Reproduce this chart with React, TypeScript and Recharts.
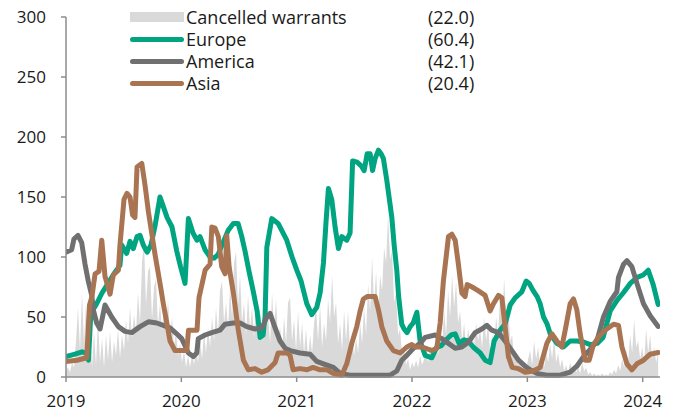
import React from "react";
import { ComposedChart, Area, Line, XAxis, YAxis } from "recharts";

// Decimal-year dates and values
const europe: [number, number][] = [
  [2019.0, 17], [2019.078, 19], [2019.139, 21], [2019.173, 20], [2019.195, 14], [2019.212, 47], [2019.234, 56], [2019.26, 60],
  [2019.312, 70], [2019.364, 78], [2019.416, 86], [2019.468, 93], [2019.483, 110], [2019.526, 103], [2019.555, 113], [2019.584, 107],
  [2019.616, 117], [2019.642, 118], [2019.67, 110], [2019.703, 104], [2019.737, 110], [2019.772, 126], [2019.815, 150], [2019.844, 142],
  [2019.876, 133], [2019.919, 125], [2019.96, 105], [2019.993, 92], [2020.032, 78], [2020.061, 132], [2020.101, 120], [2020.136, 114],
  [2020.162, 117], [2020.206, 106], [2020.249, 100], [2020.284, 99], [2020.318, 102], [2020.353, 110], [2020.405, 122], [2020.451, 128],
  [2020.492, 128], [2020.524, 117], [2020.552, 105], [2020.587, 88], [2020.622, 72], [2020.657, 55], [2020.683, 33], [2020.709, 35],
  [2020.726, 50], [2020.741, 108], [2020.784, 132], [2020.839, 128], [2020.914, 114], [2020.96, 100], [2021.001, 89], [2021.038, 80],
  [2021.088, 61], [2021.131, 52], [2021.174, 58], [2021.203, 70], [2021.232, 95], [2021.255, 130], [2021.275, 157], [2021.304, 148],
  [2021.333, 125], [2021.362, 107], [2021.391, 117], [2021.434, 114], [2021.463, 120], [2021.485, 180], [2021.524, 179], [2021.559, 176],
  [2021.585, 172], [2021.611, 186], [2021.637, 186], [2021.658, 172], [2021.68, 182], [2021.709, 189], [2021.732, 186], [2021.752, 182],
  [2021.781, 164], [2021.825, 133], [2021.845, 110], [2021.868, 89], [2021.884, 67], [2021.911, 44], [2021.931, 40], [2021.957, 37],
  [2021.984, 42], [2022.01, 45], [2022.042, 54], [2022.07, 30], [2022.114, 18], [2022.172, 16], [2022.215, 25], [2022.252, 26],
  [2022.296, 31], [2022.339, 35], [2022.374, 36], [2022.408, 28], [2022.452, 31], [2022.487, 30], [2022.53, 25], [2022.591, 20],
  [2022.634, 14], [2022.677, 12], [2022.712, 30], [2022.764, 39], [2022.807, 44], [2022.851, 60], [2022.894, 66], [2022.952, 71],
  [2022.99, 80], [2023.016, 78], [2023.05, 72], [2023.085, 67], [2023.111, 61], [2023.14, 50], [2023.172, 44], [2023.198, 36],
  [2023.256, 28], [2023.313, 25], [2023.371, 30], [2023.432, 30], [2023.493, 29], [2023.545, 27], [2023.605, 28], [2023.657, 33],
  [2023.718, 55], [2023.779, 64], [2023.831, 70], [2023.892, 78], [2023.952, 83], [2024.004, 85], [2024.048, 89], [2024.091, 77],
  [2024.134, 60.4],
];

const america: [number, number][] = [
  [2019.0, 104], [2019.049, 106], [2019.069, 115], [2019.104, 118], [2019.136, 112], [2019.165, 94], [2019.193, 80], [2019.223, 68],
  [2019.239, 55], [2019.266, 45], [2019.295, 40], [2019.321, 52], [2019.338, 60], [2019.396, 50], [2019.454, 42], [2019.512, 38],
  [2019.57, 37], [2019.642, 42], [2019.714, 46], [2019.787, 45], [2019.844, 43], [2019.902, 41], [2019.96, 36], [2020.003, 32],
  [2020.032, 26], [2020.061, 20], [2020.104, 17], [2020.134, 20], [2020.147, 32], [2020.206, 35], [2020.264, 37], [2020.336, 39],
  [2020.379, 44], [2020.451, 45], [2020.509, 45], [2020.567, 42], [2020.639, 40], [2020.7, 41], [2020.741, 50], [2020.769, 53],
  [2020.813, 41], [2020.856, 30], [2020.899, 24], [2020.943, 22], [2021.029, 20], [2021.116, 19], [2021.174, 13], [2021.232, 11],
  [2021.318, 8], [2021.376, 3], [2021.463, 1.5], [2021.81, 1.5], [2021.868, 5], [2021.911, 14], [2021.955, 18], [2022.012, 24],
  [2022.07, 28], [2022.114, 33], [2022.2, 35], [2022.258, 32], [2022.316, 28], [2022.374, 24], [2022.432, 25], [2022.489, 29],
  [2022.547, 37], [2022.605, 40], [2022.649, 43], [2022.692, 39], [2022.749, 37], [2022.807, 30], [2022.866, 22], [2022.923, 14],
  [2022.981, 9], [2023.024, 6], [2023.082, 3], [2023.169, 1.5], [2023.284, 1.5], [2023.371, 4], [2023.429, 9], [2023.487, 17],
  [2023.545, 23], [2023.603, 30], [2023.66, 50], [2023.718, 63], [2023.776, 71], [2023.79, 83], [2023.834, 94], [2023.863, 97],
  [2023.906, 92], [2023.95, 78], [2024.007, 61], [2024.065, 51], [2024.134, 42.1],
];

const asia: [number, number][] = [
  [2019.0, 13], [2019.095, 14], [2019.18, 16], [2019.204, 60], [2019.225, 67], [2019.252, 86], [2019.286, 88], [2019.31, 114],
  [2019.338, 84], [2019.382, 69], [2019.41, 85], [2019.454, 89], [2019.468, 110], [2019.503, 148], [2019.529, 153], [2019.555, 150],
  [2019.577, 135], [2019.598, 133], [2019.616, 175], [2019.657, 178], [2019.685, 160], [2019.714, 138], [2019.772, 102], [2019.815, 78],
  [2019.844, 61], [2019.902, 30], [2019.945, 22], [2020.047, 22], [2020.062, 39], [2020.136, 39], [2020.153, 66], [2020.206, 89],
  [2020.249, 94], [2020.264, 125], [2020.292, 124], [2020.321, 117], [2020.35, 92], [2020.379, 86], [2020.394, 118], [2020.414, 92],
  [2020.451, 70], [2020.494, 39], [2020.538, 14], [2020.581, 6], [2020.639, 7], [2020.697, 4], [2020.752, 6], [2020.813, 12],
  [2020.839, 20], [2020.917, 20], [2020.943, 18], [2020.969, 6], [2021.029, 7], [2021.09, 6], [2021.142, 8], [2021.203, 6],
  [2021.264, 6], [2021.316, 3], [2021.391, 1.5], [2021.434, 11], [2021.478, 28], [2021.521, 42], [2021.55, 55], [2021.578, 65],
  [2021.611, 67], [2021.68, 67], [2021.709, 56], [2021.738, 42], [2021.781, 30], [2021.839, 22], [2021.897, 20], [2021.955, 25],
  [2021.998, 27], [2022.027, 25], [2022.088, 25], [2022.174, 22], [2022.215, 24], [2022.244, 45], [2022.272, 80], [2022.316, 117],
  [2022.345, 119], [2022.374, 114], [2022.402, 94], [2022.432, 70], [2022.46, 67], [2022.478, 77], [2022.521, 75], [2022.573, 72],
  [2022.634, 68], [2022.677, 55], [2022.706, 61], [2022.749, 68], [2022.779, 66], [2022.807, 42], [2022.836, 17], [2022.868, 8],
  [2022.92, 7], [2022.981, 4], [2023.05, 5], [2023.111, 8], [2023.169, 28], [2023.212, 36], [2023.256, 30], [2023.299, 25],
  [2023.328, 39], [2023.371, 61], [2023.4, 65], [2023.429, 56], [2023.458, 36], [2023.501, 14], [2023.536, 14], [2023.573, 27],
  [2023.631, 35], [2023.689, 40], [2023.747, 44], [2023.79, 43], [2023.82, 25], [2023.863, 11], [2023.906, 6], [2023.95, 11],
  [2024.007, 14], [2024.065, 19], [2024.134, 20.4],
];

// Cancelled warrants: evenly spaced observations from the start to the end date
const warrantsStart = 2019.0;
const warrantsEnd = 2024.134;
const warrantsValues: number[] = [
  5, 8, 4, 12, 8, 30, 58, 22, 70, 28, 62, 15, 42, 8, 38, 10, 48, 12, 32, 8,
  35, 14, 38, 12, 30, 18, 40, 16, 35, 22, 48, 28, 58, 32, 52, 38, 70, 45, 95, 112,
  60, 88, 92, 48, 75, 82, 42, 62, 38, 60, 35, 65, 32, 50, 25, 38, 18, 28, 12, 22,
  8, 18, 8, 20, 10, 25, 12, 30, 15, 38, 20, 42, 25, 50, 30, 58, 35, 72, 80, 45,
  62, 40, 75, 50, 95, 105, 60, 85, 45, 62, 35, 68, 40, 58, 32, 70, 42, 55, 30, 58,
  38, 52, 28, 70, 40, 65, 30, 42, 22, 50, 28, 62, 66, 30, 48, 22, 55, 25, 45, 20,
  40, 15, 35, 20, 45, 58, 30, 60, 25, 45, 30, 65, 45, 85, 50, 62, 28, 45, 22, 55,
  30, 55, 22, 38, 18, 32, 20, 45, 28, 58, 35, 78, 55, 100, 60, 88, 50, 85, 72, 108,
  95, 135, 98, 105, 62, 70, 35, 40, 18, 25, 10, 15, 6, 12, 8, 14, 8, 18, 10, 15,
  20, 12, 25, 15, 20, 30, 18, 40, 25, 55, 35, 72, 50, 85, 58, 80, 45, 55, 30, 45,
  25, 40, 28, 38, 26, 45, 30, 40, 24, 50, 30, 45, 20, 35, 24, 50, 35, 68, 45, 82,
  50, 62, 30, 35, 15, 20, 10, 15, 8, 12, 6, 15, 22, 10, 30, 15, 25, 10, 18, 8,
  20, 12, 28, 15, 33, 12, 20, 8, 15, 5, 10, 4, 12, 6, 10, 4, 8, 3, 12, 5,
  8, 2, 4, 1, 3, 1, 2, 1, 3, 1, 2, 1, 4, 2, 6, 3, 10, 5, 15, 8,
  22, 12, 35, 20, 48, 25, 30, 15, 25, 12, 40, 20, 35, 15, 25, 12, 22,
];

const yearTicks = [2019, 2020, 2021, 2022, 2023, 2024];
const valueTicks = [0, 50, 100, 150, 200, 250, 300];

const legendItems = [
  { name: "Cancelled warrants", value: "(22.0)", color: "#d9d9d9", kind: "area" },
  { name: "Europe", value: "(60.4)", color: "#00a481", kind: "line" },
  { name: "America", value: "(42.1)", color: "#707070", kind: "line" },
  { name: "Asia", value: "(20.4)", color: "#a97452", kind: "line" },
];

const toRows = (pts: [number, number][]) => pts.map(([t, v]) => ({ t, v }));
const warrantsData = warrantsValues.map((v, i) => ({
  t: warrantsStart + (i * (warrantsEnd - warrantsStart)) / (warrantsValues.length - 1),
  v,
}));

const FONT = "'Open Sans', 'DejaVu Sans', sans-serif";
const FS = 17;

const LegendBox = () => (
  <div style={{ position: "absolute", left: 128, top: 6, width: 380, fontFamily: FONT, fontSize: 18, color: "#1a1a1a" }}>
    {legendItems.map((it) => (
      <div key={it.name} style={{ height: 22, position: "relative" }}>
        {it.kind === "area" ? (
          <div style={{ position: "absolute", left: 2, top: 6, width: 54, height: 10, background: it.color }} />
        ) : (
          <div style={{ position: "absolute", left: 2, top: 8.5, width: 54, height: 5, borderRadius: 3, background: it.color }} />
        )}
        <span style={{ position: "absolute", left: 58, top: 0, lineHeight: "22px", whiteSpace: "nowrap" }}>{it.name}</span>
        <span style={{ position: "absolute", left: 300, top: 0, lineHeight: "22px" }}>{it.value}</span>
      </div>
    ))}
  </div>
);

export default function App() {
  const axisColor = "#8c8c8c";
  const tickStyle = { fontFamily: FONT, fontSize: FS, fill: "#1a1a1a" };
  return (
    <div style={{ position: "absolute", left: 0, top: 0, width: 676, height: 418, background: "#fff" }}>
      <ComposedChart width={676} height={418} data={warrantsData} margin={{ top: 17, right: 16, bottom: 10, left: 0 }}>
        <XAxis
          dataKey="t"
          type="number"
          domain={[2019, 2024.15]}
          ticks={yearTicks}
          allowDataOverflow
          height={31}
          stroke={axisColor}
          strokeWidth={1.5}
          tickSize={5}
          tickMargin={13}
          tick={tickStyle}
          tickFormatter={(v: number) => String(v)}
        />
        <YAxis
          type="number"
          domain={[0, 300]}
          ticks={valueTicks}
          width={66}
          stroke={axisColor}
          strokeWidth={1.5}
          tickSize={5}
          tickMargin={15}
          tick={tickStyle}
        />
        <Area
          data={warrantsData}
          dataKey="v"
          type="linear"
          stroke="none"
          fill="#d9d9d9"
          fillOpacity={1}
          isAnimationActive={false}
          dot={false}
          activeDot={false}
        />
        <Line data={toRows(europe)} dataKey="v" type="linear" stroke="#00a481" strokeWidth={5} dot={false} activeDot={false} isAnimationActive={false} strokeLinejoin="round" strokeLinecap="round" />
        <Line data={toRows(america)} dataKey="v" type="linear" stroke="#707070" strokeWidth={5} dot={false} activeDot={false} isAnimationActive={false} strokeLinejoin="round" strokeLinecap="round" />
        <Line data={toRows(asia)} dataKey="v" type="linear" stroke="#a97452" strokeWidth={5} dot={false} activeDot={false} isAnimationActive={false} strokeLinejoin="round" strokeLinecap="round" />
      </ComposedChart>
      <LegendBox />
    </div>
  );
}
